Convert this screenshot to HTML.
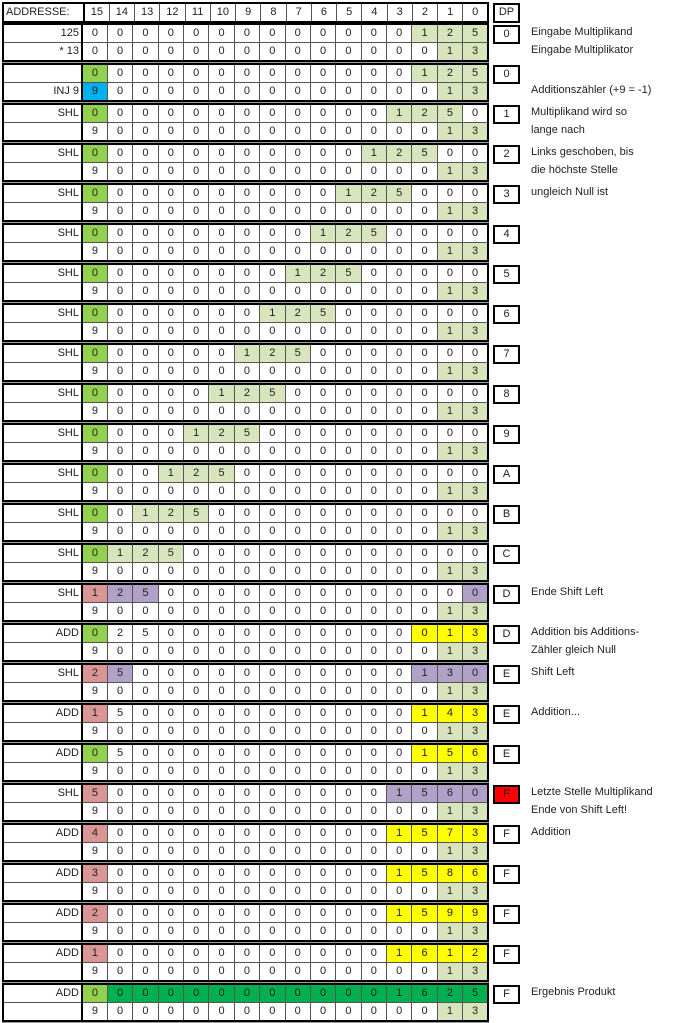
<!DOCTYPE html>
<html><head><meta charset="utf-8"><style>
body{margin:0;width:675px;height:1023px;background:#fff;position:relative;overflow:hidden;font-family:"Liberation Sans",sans-serif}
.b{position:absolute;left:2px;width:487px;height:40px;background:#999}
table{border-collapse:collapse;table-layout:fixed;width:487px;height:39px;border:2px solid #000;background:#fff}
td{border:1px solid #555;padding:0;text-align:center;font-size:11px;height:17px;line-height:15px;color:#222;overflow:hidden;white-space:nowrap;background:#fff}
td.l{text-align:right;padding-right:2px;border-right:2px solid #000;width:75px}
td.g{background:#d8e4bc}td.G{background:#92d050}td.B{background:#00b0f0}td.p{background:#da9694}td.v{background:#b1a0c7}td.y{background:#ffff00}td.d{background:#00b050}
.dp{position:absolute;left:493px;width:23px;height:15px;border:2px solid #000;text-align:center;font-size:11px;line-height:15px;color:#222;background:#fff}
.c{position:absolute;left:531px;font-size:11px;color:#222;line-height:15px;white-space:nowrap}
.h td{height:17px;font-size:11px}
</style></head><body>
<div class="b" style="top:2px;height:21px;background:#fff"><table style="height:21px" class="h"><tr><td class="l" style="text-align:left;padding-left:2px">ADDRESSE:</td><td>15</td><td>14</td><td>13</td><td>12</td><td>11</td><td>10</td><td>9</td><td>8</td><td>7</td><td>6</td><td>5</td><td>4</td><td>3</td><td>2</td><td>1</td><td>0</td></tr></table></div>
<div class="dp" style="top:3px;height:16px">DP</div>

<div class="b" style="top:23px"><table>
<tr><td class="l">125</td><td>0</td><td>0</td><td>0</td><td>0</td><td>0</td><td>0</td><td>0</td><td>0</td><td>0</td><td>0</td><td>0</td><td>0</td><td>0</td><td class="g">1</td><td class="g">2</td><td class="g">5</td></tr>
<tr><td class="l">* 13</td><td>0</td><td>0</td><td>0</td><td>0</td><td>0</td><td>0</td><td>0</td><td>0</td><td>0</td><td>0</td><td>0</td><td>0</td><td>0</td><td>0</td><td class="g">1</td><td class="g">3</td></tr></table></div>
<div class="dp" style="top:25px">0</div><div class="c" style="top:25px">Eingabe Multiplikand</div><div class="c" style="top:43px">Eingabe Multiplikator</div>

<div class="b" style="top:63px"><table>
<tr><td class="l"></td><td class="G">0</td><td>0</td><td>0</td><td>0</td><td>0</td><td>0</td><td>0</td><td>0</td><td>0</td><td>0</td><td>0</td><td>0</td><td>0</td><td class="g">1</td><td class="g">2</td><td class="g">5</td></tr>
<tr><td class="l">INJ 9</td><td class="B">9</td><td>0</td><td>0</td><td>0</td><td>0</td><td>0</td><td>0</td><td>0</td><td>0</td><td>0</td><td>0</td><td>0</td><td>0</td><td>0</td><td class="g">1</td><td class="g">3</td></tr></table></div>
<div class="dp" style="top:65px">0</div><div class="c" style="top:83px">Additionszähler (+9 = -1)</div>

<div class="b" style="top:103px"><table>
<tr><td class="l">SHL</td><td class="G">0</td><td>0</td><td>0</td><td>0</td><td>0</td><td>0</td><td>0</td><td>0</td><td>0</td><td>0</td><td>0</td><td>0</td><td class="g">1</td><td class="g">2</td><td class="g">5</td><td>0</td></tr>
<tr><td class="l"></td><td>9</td><td>0</td><td>0</td><td>0</td><td>0</td><td>0</td><td>0</td><td>0</td><td>0</td><td>0</td><td>0</td><td>0</td><td>0</td><td>0</td><td class="g">1</td><td class="g">3</td></tr></table></div>
<div class="dp" style="top:105px">1</div><div class="c" style="top:105px">Multiplikand wird so</div><div class="c" style="top:123px">lange nach</div>

<div class="b" style="top:143px"><table>
<tr><td class="l">SHL</td><td class="G">0</td><td>0</td><td>0</td><td>0</td><td>0</td><td>0</td><td>0</td><td>0</td><td>0</td><td>0</td><td>0</td><td class="g">1</td><td class="g">2</td><td class="g">5</td><td>0</td><td>0</td></tr>
<tr><td class="l"></td><td>9</td><td>0</td><td>0</td><td>0</td><td>0</td><td>0</td><td>0</td><td>0</td><td>0</td><td>0</td><td>0</td><td>0</td><td>0</td><td>0</td><td class="g">1</td><td class="g">3</td></tr></table></div>
<div class="dp" style="top:145px">2</div><div class="c" style="top:145px">Links geschoben, bis</div><div class="c" style="top:163px">die höchste Stelle</div>

<div class="b" style="top:183px"><table>
<tr><td class="l">SHL</td><td class="G">0</td><td>0</td><td>0</td><td>0</td><td>0</td><td>0</td><td>0</td><td>0</td><td>0</td><td>0</td><td class="g">1</td><td class="g">2</td><td class="g">5</td><td>0</td><td>0</td><td>0</td></tr>
<tr><td class="l"></td><td>9</td><td>0</td><td>0</td><td>0</td><td>0</td><td>0</td><td>0</td><td>0</td><td>0</td><td>0</td><td>0</td><td>0</td><td>0</td><td>0</td><td class="g">1</td><td class="g">3</td></tr></table></div>
<div class="dp" style="top:185px">3</div><div class="c" style="top:185px">ungleich Null ist</div>

<div class="b" style="top:223px"><table>
<tr><td class="l">SHL</td><td class="G">0</td><td>0</td><td>0</td><td>0</td><td>0</td><td>0</td><td>0</td><td>0</td><td>0</td><td class="g">1</td><td class="g">2</td><td class="g">5</td><td>0</td><td>0</td><td>0</td><td>0</td></tr>
<tr><td class="l"></td><td>9</td><td>0</td><td>0</td><td>0</td><td>0</td><td>0</td><td>0</td><td>0</td><td>0</td><td>0</td><td>0</td><td>0</td><td>0</td><td>0</td><td class="g">1</td><td class="g">3</td></tr></table></div>
<div class="dp" style="top:225px">4</div>

<div class="b" style="top:263px"><table>
<tr><td class="l">SHL</td><td class="G">0</td><td>0</td><td>0</td><td>0</td><td>0</td><td>0</td><td>0</td><td>0</td><td class="g">1</td><td class="g">2</td><td class="g">5</td><td>0</td><td>0</td><td>0</td><td>0</td><td>0</td></tr>
<tr><td class="l"></td><td>9</td><td>0</td><td>0</td><td>0</td><td>0</td><td>0</td><td>0</td><td>0</td><td>0</td><td>0</td><td>0</td><td>0</td><td>0</td><td>0</td><td class="g">1</td><td class="g">3</td></tr></table></div>
<div class="dp" style="top:265px">5</div>

<div class="b" style="top:303px"><table>
<tr><td class="l">SHL</td><td class="G">0</td><td>0</td><td>0</td><td>0</td><td>0</td><td>0</td><td>0</td><td class="g">1</td><td class="g">2</td><td class="g">5</td><td>0</td><td>0</td><td>0</td><td>0</td><td>0</td><td>0</td></tr>
<tr><td class="l"></td><td>9</td><td>0</td><td>0</td><td>0</td><td>0</td><td>0</td><td>0</td><td>0</td><td>0</td><td>0</td><td>0</td><td>0</td><td>0</td><td>0</td><td class="g">1</td><td class="g">3</td></tr></table></div>
<div class="dp" style="top:305px">6</div>

<div class="b" style="top:343px"><table>
<tr><td class="l">SHL</td><td class="G">0</td><td>0</td><td>0</td><td>0</td><td>0</td><td>0</td><td class="g">1</td><td class="g">2</td><td class="g">5</td><td>0</td><td>0</td><td>0</td><td>0</td><td>0</td><td>0</td><td>0</td></tr>
<tr><td class="l"></td><td>9</td><td>0</td><td>0</td><td>0</td><td>0</td><td>0</td><td>0</td><td>0</td><td>0</td><td>0</td><td>0</td><td>0</td><td>0</td><td>0</td><td class="g">1</td><td class="g">3</td></tr></table></div>
<div class="dp" style="top:345px">7</div>

<div class="b" style="top:383px"><table>
<tr><td class="l">SHL</td><td class="G">0</td><td>0</td><td>0</td><td>0</td><td>0</td><td class="g">1</td><td class="g">2</td><td class="g">5</td><td>0</td><td>0</td><td>0</td><td>0</td><td>0</td><td>0</td><td>0</td><td>0</td></tr>
<tr><td class="l"></td><td>9</td><td>0</td><td>0</td><td>0</td><td>0</td><td>0</td><td>0</td><td>0</td><td>0</td><td>0</td><td>0</td><td>0</td><td>0</td><td>0</td><td class="g">1</td><td class="g">3</td></tr></table></div>
<div class="dp" style="top:385px">8</div>

<div class="b" style="top:423px"><table>
<tr><td class="l">SHL</td><td class="G">0</td><td>0</td><td>0</td><td>0</td><td class="g">1</td><td class="g">2</td><td class="g">5</td><td>0</td><td>0</td><td>0</td><td>0</td><td>0</td><td>0</td><td>0</td><td>0</td><td>0</td></tr>
<tr><td class="l"></td><td>9</td><td>0</td><td>0</td><td>0</td><td>0</td><td>0</td><td>0</td><td>0</td><td>0</td><td>0</td><td>0</td><td>0</td><td>0</td><td>0</td><td class="g">1</td><td class="g">3</td></tr></table></div>
<div class="dp" style="top:425px">9</div>

<div class="b" style="top:463px"><table>
<tr><td class="l">SHL</td><td class="G">0</td><td>0</td><td>0</td><td class="g">1</td><td class="g">2</td><td class="g">5</td><td>0</td><td>0</td><td>0</td><td>0</td><td>0</td><td>0</td><td>0</td><td>0</td><td>0</td><td>0</td></tr>
<tr><td class="l"></td><td>9</td><td>0</td><td>0</td><td>0</td><td>0</td><td>0</td><td>0</td><td>0</td><td>0</td><td>0</td><td>0</td><td>0</td><td>0</td><td>0</td><td class="g">1</td><td class="g">3</td></tr></table></div>
<div class="dp" style="top:465px">A</div>

<div class="b" style="top:503px"><table>
<tr><td class="l">SHL</td><td class="G">0</td><td>0</td><td class="g">1</td><td class="g">2</td><td class="g">5</td><td>0</td><td>0</td><td>0</td><td>0</td><td>0</td><td>0</td><td>0</td><td>0</td><td>0</td><td>0</td><td>0</td></tr>
<tr><td class="l"></td><td>9</td><td>0</td><td>0</td><td>0</td><td>0</td><td>0</td><td>0</td><td>0</td><td>0</td><td>0</td><td>0</td><td>0</td><td>0</td><td>0</td><td class="g">1</td><td class="g">3</td></tr></table></div>
<div class="dp" style="top:505px">B</div>

<div class="b" style="top:543px"><table>
<tr><td class="l">SHL</td><td class="G">0</td><td class="g">1</td><td class="g">2</td><td class="g">5</td><td>0</td><td>0</td><td>0</td><td>0</td><td>0</td><td>0</td><td>0</td><td>0</td><td>0</td><td>0</td><td>0</td><td>0</td></tr>
<tr><td class="l"></td><td>9</td><td>0</td><td>0</td><td>0</td><td>0</td><td>0</td><td>0</td><td>0</td><td>0</td><td>0</td><td>0</td><td>0</td><td>0</td><td>0</td><td class="g">1</td><td class="g">3</td></tr></table></div>
<div class="dp" style="top:545px">C</div>

<div class="b" style="top:583px"><table>
<tr><td class="l">SHL</td><td class="p">1</td><td class="v">2</td><td class="v">5</td><td>0</td><td>0</td><td>0</td><td>0</td><td>0</td><td>0</td><td>0</td><td>0</td><td>0</td><td>0</td><td>0</td><td>0</td><td class="v">0</td></tr>
<tr><td class="l"></td><td>9</td><td>0</td><td>0</td><td>0</td><td>0</td><td>0</td><td>0</td><td>0</td><td>0</td><td>0</td><td>0</td><td>0</td><td>0</td><td>0</td><td class="g">1</td><td class="g">3</td></tr></table></div>
<div class="dp" style="top:585px">D</div><div class="c" style="top:585px">Ende Shift Left</div>

<div class="b" style="top:623px"><table>
<tr><td class="l">ADD</td><td class="G">0</td><td>2</td><td>5</td><td>0</td><td>0</td><td>0</td><td>0</td><td>0</td><td>0</td><td>0</td><td>0</td><td>0</td><td>0</td><td class="y">0</td><td class="y">1</td><td class="y">3</td></tr>
<tr><td class="l"></td><td>9</td><td>0</td><td>0</td><td>0</td><td>0</td><td>0</td><td>0</td><td>0</td><td>0</td><td>0</td><td>0</td><td>0</td><td>0</td><td>0</td><td class="g">1</td><td class="g">3</td></tr></table></div>
<div class="dp" style="top:625px">D</div><div class="c" style="top:625px">Addition bis Additions-</div><div class="c" style="top:643px">Zähler gleich Null</div>

<div class="b" style="top:663px"><table>
<tr><td class="l">SHL</td><td class="p">2</td><td class="v">5</td><td>0</td><td>0</td><td>0</td><td>0</td><td>0</td><td>0</td><td>0</td><td>0</td><td>0</td><td>0</td><td>0</td><td class="v">1</td><td class="v">3</td><td class="v">0</td></tr>
<tr><td class="l"></td><td>9</td><td>0</td><td>0</td><td>0</td><td>0</td><td>0</td><td>0</td><td>0</td><td>0</td><td>0</td><td>0</td><td>0</td><td>0</td><td>0</td><td class="g">1</td><td class="g">3</td></tr></table></div>
<div class="dp" style="top:665px">E</div><div class="c" style="top:665px">Shift Left</div>

<div class="b" style="top:703px"><table>
<tr><td class="l">ADD</td><td class="p">1</td><td>5</td><td>0</td><td>0</td><td>0</td><td>0</td><td>0</td><td>0</td><td>0</td><td>0</td><td>0</td><td>0</td><td>0</td><td class="y">1</td><td class="y">4</td><td class="y">3</td></tr>
<tr><td class="l"></td><td>9</td><td>0</td><td>0</td><td>0</td><td>0</td><td>0</td><td>0</td><td>0</td><td>0</td><td>0</td><td>0</td><td>0</td><td>0</td><td>0</td><td class="g">1</td><td class="g">3</td></tr></table></div>
<div class="dp" style="top:705px">E</div><div class="c" style="top:705px">Addition...</div>

<div class="b" style="top:743px"><table>
<tr><td class="l">ADD</td><td class="G">0</td><td>5</td><td>0</td><td>0</td><td>0</td><td>0</td><td>0</td><td>0</td><td>0</td><td>0</td><td>0</td><td>0</td><td>0</td><td class="y">1</td><td class="y">5</td><td class="y">6</td></tr>
<tr><td class="l"></td><td>9</td><td>0</td><td>0</td><td>0</td><td>0</td><td>0</td><td>0</td><td>0</td><td>0</td><td>0</td><td>0</td><td>0</td><td>0</td><td>0</td><td class="g">1</td><td class="g">3</td></tr></table></div>
<div class="dp" style="top:745px">E</div>

<div class="b" style="top:783px"><table>
<tr><td class="l">SHL</td><td class="p">5</td><td>0</td><td>0</td><td>0</td><td>0</td><td>0</td><td>0</td><td>0</td><td>0</td><td>0</td><td>0</td><td>0</td><td class="v">1</td><td class="v">5</td><td class="v">6</td><td class="v">0</td></tr>
<tr><td class="l"></td><td>9</td><td>0</td><td>0</td><td>0</td><td>0</td><td>0</td><td>0</td><td>0</td><td>0</td><td>0</td><td>0</td><td>0</td><td>0</td><td>0</td><td class="g">1</td><td class="g">3</td></tr></table></div>
<div class="dp" style="top:785px;background:#ff0000">F</div><div class="c" style="top:785px">Letzte Stelle Multiplikand</div><div class="c" style="top:803px">Ende von Shift Left!</div>

<div class="b" style="top:823px"><table>
<tr><td class="l">ADD</td><td class="p">4</td><td>0</td><td>0</td><td>0</td><td>0</td><td>0</td><td>0</td><td>0</td><td>0</td><td>0</td><td>0</td><td>0</td><td class="y">1</td><td class="y">5</td><td class="y">7</td><td class="y">3</td></tr>
<tr><td class="l"></td><td>9</td><td>0</td><td>0</td><td>0</td><td>0</td><td>0</td><td>0</td><td>0</td><td>0</td><td>0</td><td>0</td><td>0</td><td>0</td><td>0</td><td class="g">1</td><td class="g">3</td></tr></table></div>
<div class="dp" style="top:825px">F</div><div class="c" style="top:825px">Addition</div>

<div class="b" style="top:863px"><table>
<tr><td class="l">ADD</td><td class="p">3</td><td>0</td><td>0</td><td>0</td><td>0</td><td>0</td><td>0</td><td>0</td><td>0</td><td>0</td><td>0</td><td>0</td><td class="y">1</td><td class="y">5</td><td class="y">8</td><td class="y">6</td></tr>
<tr><td class="l"></td><td>9</td><td>0</td><td>0</td><td>0</td><td>0</td><td>0</td><td>0</td><td>0</td><td>0</td><td>0</td><td>0</td><td>0</td><td>0</td><td>0</td><td class="g">1</td><td class="g">3</td></tr></table></div>
<div class="dp" style="top:865px">F</div>

<div class="b" style="top:903px"><table>
<tr><td class="l">ADD</td><td class="p">2</td><td>0</td><td>0</td><td>0</td><td>0</td><td>0</td><td>0</td><td>0</td><td>0</td><td>0</td><td>0</td><td>0</td><td class="y">1</td><td class="y">5</td><td class="y">9</td><td class="y">9</td></tr>
<tr><td class="l"></td><td>9</td><td>0</td><td>0</td><td>0</td><td>0</td><td>0</td><td>0</td><td>0</td><td>0</td><td>0</td><td>0</td><td>0</td><td>0</td><td>0</td><td class="g">1</td><td class="g">3</td></tr></table></div>
<div class="dp" style="top:905px">F</div>

<div class="b" style="top:943px"><table>
<tr><td class="l">ADD</td><td class="p">1</td><td>0</td><td>0</td><td>0</td><td>0</td><td>0</td><td>0</td><td>0</td><td>0</td><td>0</td><td>0</td><td>0</td><td class="y">1</td><td class="y">6</td><td class="y">1</td><td class="y">2</td></tr>
<tr><td class="l"></td><td>9</td><td>0</td><td>0</td><td>0</td><td>0</td><td>0</td><td>0</td><td>0</td><td>0</td><td>0</td><td>0</td><td>0</td><td>0</td><td>0</td><td class="g">1</td><td class="g">3</td></tr></table></div>
<div class="dp" style="top:945px">F</div>

<div class="b" style="top:983px"><table>
<tr><td class="l">ADD</td><td class="G">0</td><td class="d">0</td><td class="d">0</td><td class="d">0</td><td class="d">0</td><td class="d">0</td><td class="d">0</td><td class="d">0</td><td class="d">0</td><td class="d">0</td><td class="d">0</td><td class="d">0</td><td class="d">1</td><td class="d">6</td><td class="d">2</td><td class="d">5</td></tr>
<tr><td class="l"></td><td>9</td><td>0</td><td>0</td><td>0</td><td>0</td><td>0</td><td>0</td><td>0</td><td>0</td><td>0</td><td>0</td><td>0</td><td>0</td><td>0</td><td class="g">1</td><td class="g">3</td></tr></table></div>
<div class="dp" style="top:985px">F</div><div class="c" style="top:985px">Ergebnis Produkt</div>
</body></html>
